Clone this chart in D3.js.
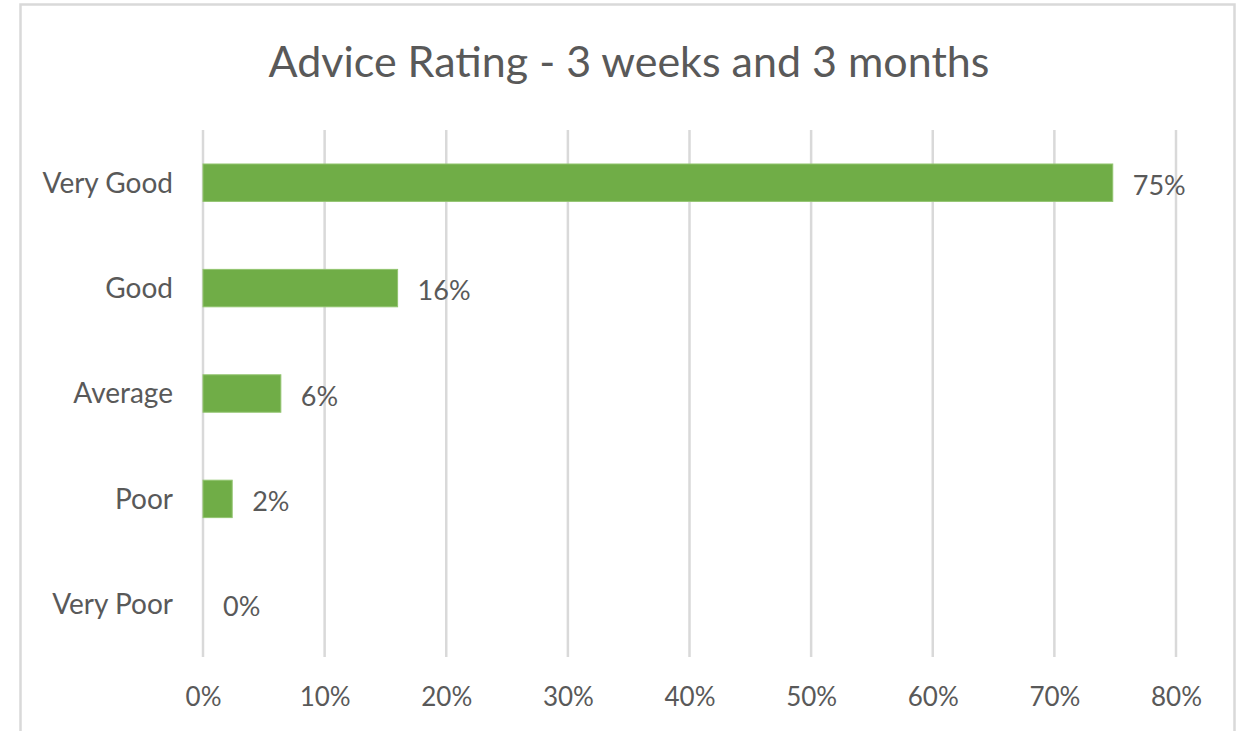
<!DOCTYPE html>
<html>
<head>
<meta charset="utf-8">
<script src="https://cdn.jsdelivr.net/npm/d3@7"></script>
<style>
  html, body { margin: 0; padding: 0; background: #ffffff; }
  svg { display: block; }
  text { font-family: Lato, "Open Sans", sans-serif; fill: #595959; }
</style>
</head>
<body>
<svg id="chart" width="1242" height="731"></svg>
<script>
// Share of respondents per rating
const categories = ["Very Good", "Good", "Average", "Poor", "Very Poor"];
const shares = [0.748, 0.16, 0.064, 0.024, 0];
const tickValues = [0, 0.1, 0.2, 0.3, 0.4, 0.5, 0.6, 0.7, 0.8];
const title = "Advice Rating - 3 weeks and 3 months";

const svg = d3.select("#chart");
const W = 1242, H = 731;

// outer chart frame
svg.append("rect")
  .attr("x", 20.5).attr("y", 4.5)
  .attr("width", 1214).attr("height", H + 20)
  .attr("fill", "#ffffff")
  .attr("stroke", "#d9d9d9")
  .attr("stroke-width", 2.5);

const plot = { left: 203, right: 1176, top: 130, bottom: 657 };

const x = d3.scaleLinear().domain([0, 0.8]).range([plot.left, plot.right]);
const y = d3.scaleBand().domain(categories)
  .range([plot.top, plot.bottom])
  .paddingInner(0.645).paddingOuter(0.3225);

const pct = d3.format(".0%");

// vertical gridlines
svg.append("g").selectAll("line")
  .data(tickValues)
  .join("line")
  .attr("x1", d => x(d)).attr("x2", d => x(d))
  .attr("y1", plot.top).attr("y2", plot.bottom)
  .attr("stroke", "#d9d9d9")
  .attr("stroke-width", 2.5);

// x axis tick labels
const xAxis = d3.axisBottom(x).tickValues(tickValues).tickFormat(pct).tickSize(0).tickPadding(0);
const gx = svg.append("g").attr("transform", `translate(0,${plot.bottom})`).call(xAxis);
gx.select(".domain").remove();
gx.selectAll("text")
  .attr("y", 49).attr("dy", 0)
  .style("font-size", "26px")
  .attr("fill", "#595959");

// y axis category labels
const yAxis = d3.axisLeft(y).tickSize(0).tickPadding(0);
const gy = svg.append("g").attr("transform", `translate(${plot.left - 30},0)`).call(yAxis);
gy.select(".domain").remove();
gy.selectAll("text")
  .attr("dy", "0.35em")
  .style("font-size", "28px")
  .attr("fill", "#595959");

// bars
const rows = categories.map((c, i) => ({ cat: c, v: shares[i] }));
svg.append("g").selectAll("rect")
  .data(rows)
  .join("rect")
  .attr("x", x(0))
  .attr("y", d => y(d.cat))
  .attr("width", d => x(d.v) - x(0))
  .attr("height", y.bandwidth())
  .attr("fill", "#70ad47")
  .attr("stroke", d => d.v > 0 ? "#92c46f" : "none")
  .attr("stroke-width", 1);

// value labels
svg.append("g").selectAll("text")
  .data(rows)
  .join("text")
  .attr("x", d => x(d.v) + 20)
  .attr("y", d => y(d.cat) + y.bandwidth() / 2)
  .attr("dy", "0.45em")
  .style("font-size", "27px")
  .text(d => pct(d.v));

// title
svg.append("text")
  .attr("x", 629).attr("y", 77)
  .attr("text-anchor", "middle")
  .style("font-size", "43px")
  .text(title);
</script>
</body>
</html>
